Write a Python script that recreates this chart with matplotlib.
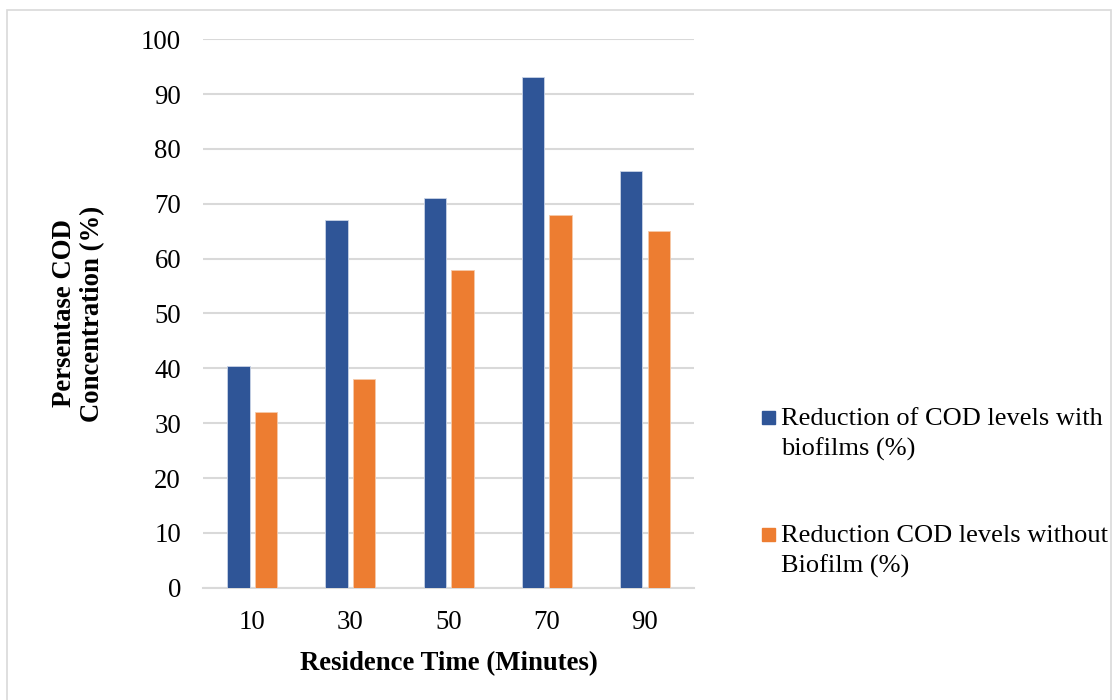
import numpy as np
import matplotlib
matplotlib.use('Agg')
import matplotlib.pyplot as plt
from matplotlib.patches import Rectangle

# chart data
times = ['10', '30', '50', '70', '90']
with_biofilm = [40.4, 67.1, 71.0, 93.2, 75.9]
without_biofilm = [32.0, 38.0, 58.0, 68.0, 65.0]
series_names = ['Reduction of COD levels with\nbiofilms (%)',
                'Reduction COD levels without\nBiofilm (%)']
blue = '#2F5597'
orange = '#ED7D31'

plt.rcParams['font.family'] = ['Liberation Serif', 'DejaVu Serif']
fs = 19.3

fig = plt.figure(figsize=(11.12, 7), dpi=100)
ax = fig.add_axes([0.1828, 0.1604, 0.4412, 0.7835])

x = np.arange(len(times))
w = 0.227
off = 0.141
ax.bar(x - off, with_biofilm, w, color=blue, edgecolor='#c9d3e6', linewidth=0.6, zorder=3)
ax.bar(x + off, without_biofilm, w, color=orange, edgecolor='#f6c9a9', linewidth=0.6, zorder=3)

ax.set_xlim(-0.5, len(times) - 0.5)
ax.set_ylim(0, 100)
ax.set_yticks(range(0, 101, 10))
ax.set_xticks(x)
ax.set_xticklabels(times)
ax.tick_params(axis='both', length=0, labelsize=fs)
ax.tick_params(axis='x', pad=16)
ax.tick_params(axis='y', pad=16)
ax.yaxis.grid(True, color='#d9d9d9', linewidth=1.5, zorder=0)
ax.set_axisbelow(True)
for s in ['top', 'right', 'left']:
    ax.spines[s].set_visible(False)
ax.spines['bottom'].set_color('#d9d9d9')
ax.spines['bottom'].set_linewidth(1.5)

ax.set_xlabel('Residence Time (Minutes)', fontsize=fs, fontweight='bold', labelpad=12)
ax.set_ylabel('Persentase COD\nConcentration (%)', fontsize=fs, fontweight='bold',
              labelpad=26, linespacing=1.15)

# legend drawn by hand so the square lines up with the first text line
leg_y = [1 - 417 / 700, 1 - 534 / 700]
for yy, col, name in zip(leg_y, [blue, orange], series_names):
    fig.add_artist(Rectangle((762 / 1112, yy - 6.5 / 700), 13 / 1112, 13 / 700,
                             transform=fig.transFigure, color=col))
    fig.text(781 / 1112, yy + 9 / 700, name, fontsize=19, va='top', ha='left',
             linespacing=1.4)

# outer chart border
fig.add_artist(Rectangle((7 / 1112, -0.01), 1103.5 / 1112, 1 - 10 / 700 + 0.01,
                         transform=fig.transFigure, fill=False,
                         edgecolor='#d9d9d9', linewidth=1.2))

fig.savefig('out.png', dpi=100)
